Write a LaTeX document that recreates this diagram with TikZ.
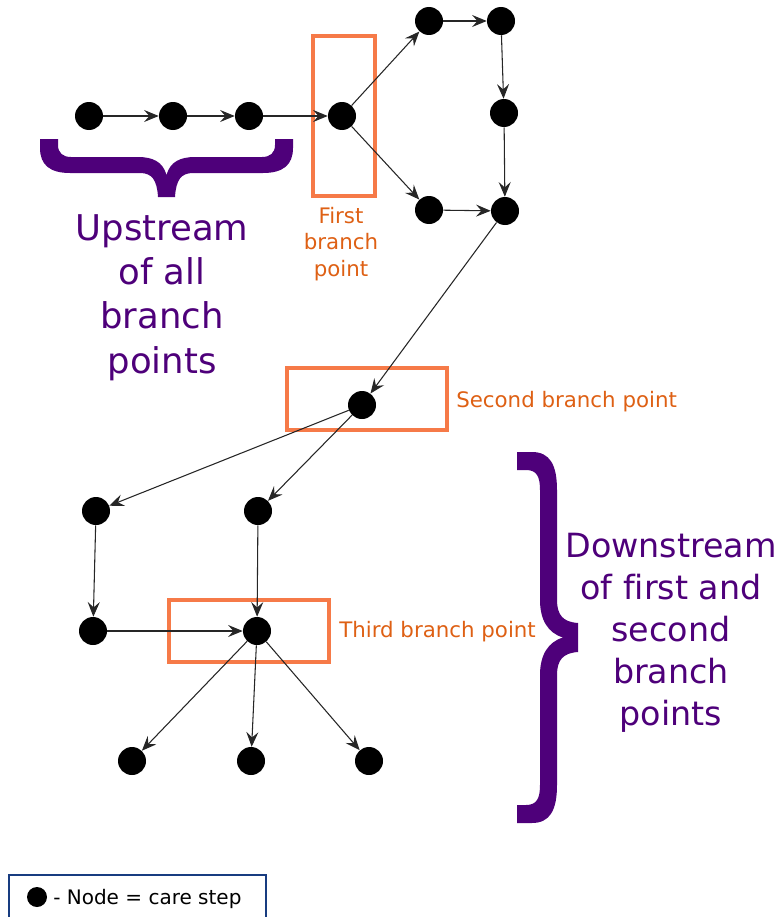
\documentclass[tikz,border=0pt]{standalone}
\usepackage{fontspec}
\setmainfont[Ligatures=NoCommon]{DejaVu Sans}
\usetikzlibrary{arrows.meta}
\definecolor{branchorange}{RGB}{246,122,72}
\definecolor{labelorange}{RGB}{222,96,20}
\definecolor{scopepurple}{RGB}{78,0,122}
\definecolor{legendblue}{RGB}{24,60,128}
\begin{document}
\begin{tikzpicture}[x=0.75pt,y=-0.75pt,
  carestep/.style={circle,fill=black,minimum size=21pt,inner sep=0pt},
  flow/.style={draw=black!85,line width=0.8pt,-{Stealth[length=11pt,width=9pt,inset=4pt]}},
  boxframe/.style={draw=branchorange,line width=2.3pt},
  branchlabel/.style={text=labelorange,font=\fontsize{16pt}{20pt}\selectfont,inner sep=0pt},
  scopelabel/.style={text=scopepurple,align=center,inner sep=0pt}
]
\useasboundingbox (0,0) rectangle (780,917);

% branch point frames
\draw[boxframe] (313,36) rectangle (375,196);
\draw[boxframe] (287,368) rectangle (447,430);
\draw[boxframe] (169,600) rectangle (329,662);

% care steps
\node[carestep] (a1) at (89,116) {};
\node[carestep] (a2) at (173,116) {};
\node[carestep] (a3) at (249,116) {};
\node[carestep] (b)  at (342,116) {};
\node[carestep] (c1) at (429,21) {};
\node[carestep] (c2) at (501,21) {};
\node[carestep] (c3) at (504,113) {};
\node[carestep] (c4) at (505,211) {};
\node[carestep] (d1) at (429,210) {};
\node[carestep] (e)  at (362,405) {};
\node[carestep] (f1) at (96,511) {};
\node[carestep] (f2) at (258,511) {};
\node[carestep] (g1) at (93,631) {};
\node[carestep] (g)  at (257,631) {};
\node[carestep] (h1) at (132,761) {};
\node[carestep] (h2) at (251,761) {};
\node[carestep] (h3) at (369,761) {};

% transitions
\draw[flow] (a1) -- (a2);
\draw[flow] (a2) -- (a3);
\draw[flow] (a3) -- (b);
\draw[flow] (b) -- (c1);
\draw[flow] (b) -- (d1);
\draw[flow] (c1) -- (c2);
\draw[flow] (c2) -- (c3);
\draw[flow] (c3) -- (c4);
\draw[flow] (d1) -- (c4);
\draw[flow] (c4) -- (e);
\draw[flow] (e) -- (f1);
\draw[flow] (e) -- (f2);
\draw[flow] (f1) -- (g1);
\draw[flow] (f2) -- (g);
\draw[flow] (g1) -- (g);
\draw[flow] (g) -- (h1);
\draw[flow] (g) -- (h2);
\draw[flow] (g) -- (h3);

% branch labels
\node[branchlabel,align=center] (lfirst) at (341,244) {First\\branch\\point};
\node[branchlabel,anchor=west] (lsecond) at (456,402) {Second branch point};
\node[branchlabel,anchor=west] (lthird) at (339,631.5) {Third branch point};

% upstream brace
\fill[scopepurple] (40,139) -- (40,148) .. controls (40,165) and (50,173) .. (70,173)
  -- (140,173) .. controls (152,173) and (157,180) .. (158,197)
  -- (175,197) .. controls (176,180) and (181,173) .. (193,173)
  -- (263,173) .. controls (283,173) and (293,165) .. (293,148)
  -- (293,139) -- (275,139) -- (275,145) .. controls (275,153) and (270,157) .. (262,157)
  -- (195,157) .. controls (180,157) and (170,162) .. (166.5,175)
  .. controls (163,162) and (153,157) .. (138,157)
  -- (71,157) .. controls (63,157) and (58,153) .. (58,145) -- (58,139) -- cycle;
\node[scopelabel,font=\fontsize{26.6pt}{33.2pt}\selectfont] (lup) at (162,297.5)
  {Upstream\\of all\\branch\\points};

% downstream brace
\fill[scopepurple] (517,452) -- (532,452) .. controls (550,452) and (557,465) .. (557,490)
  -- (557,600) .. controls (557,615) and (563,622) .. (578,623)
  -- (578,652) .. controls (563,653) and (557,660) .. (557,675)
  -- (557,785) .. controls (557,810) and (550,823) .. (532,823)
  -- (517,823) -- (517,805) -- (526,805) .. controls (537,805) and (540,798) .. (540,785)
  -- (540,675) .. controls (540,655) and (548,642) .. (563,637.5)
  .. controls (548,633) and (540,620) .. (540,600)
  -- (540,490) .. controls (540,477) and (537,470) .. (526,470) -- (517,470) -- cycle;
\node[scopelabel,font=\fontsize{25pt}{31.5pt}\selectfont] (ldown) at (671,633)
  {Downstream\\of first and\\second\\branch\\points};

% legend
\draw[legendblue,line width=1.5pt] (9,930) -- (9,875) -- (266,875) -- (266,930);
\node[carestep,minimum size=15pt] (key) at (37,897) {};
\node[anchor=west,inner sep=0pt,font=\fontsize{15pt}{18pt}\selectfont] (keytext) at (53,899) {- Node = care step};
\end{tikzpicture}
\end{document}
